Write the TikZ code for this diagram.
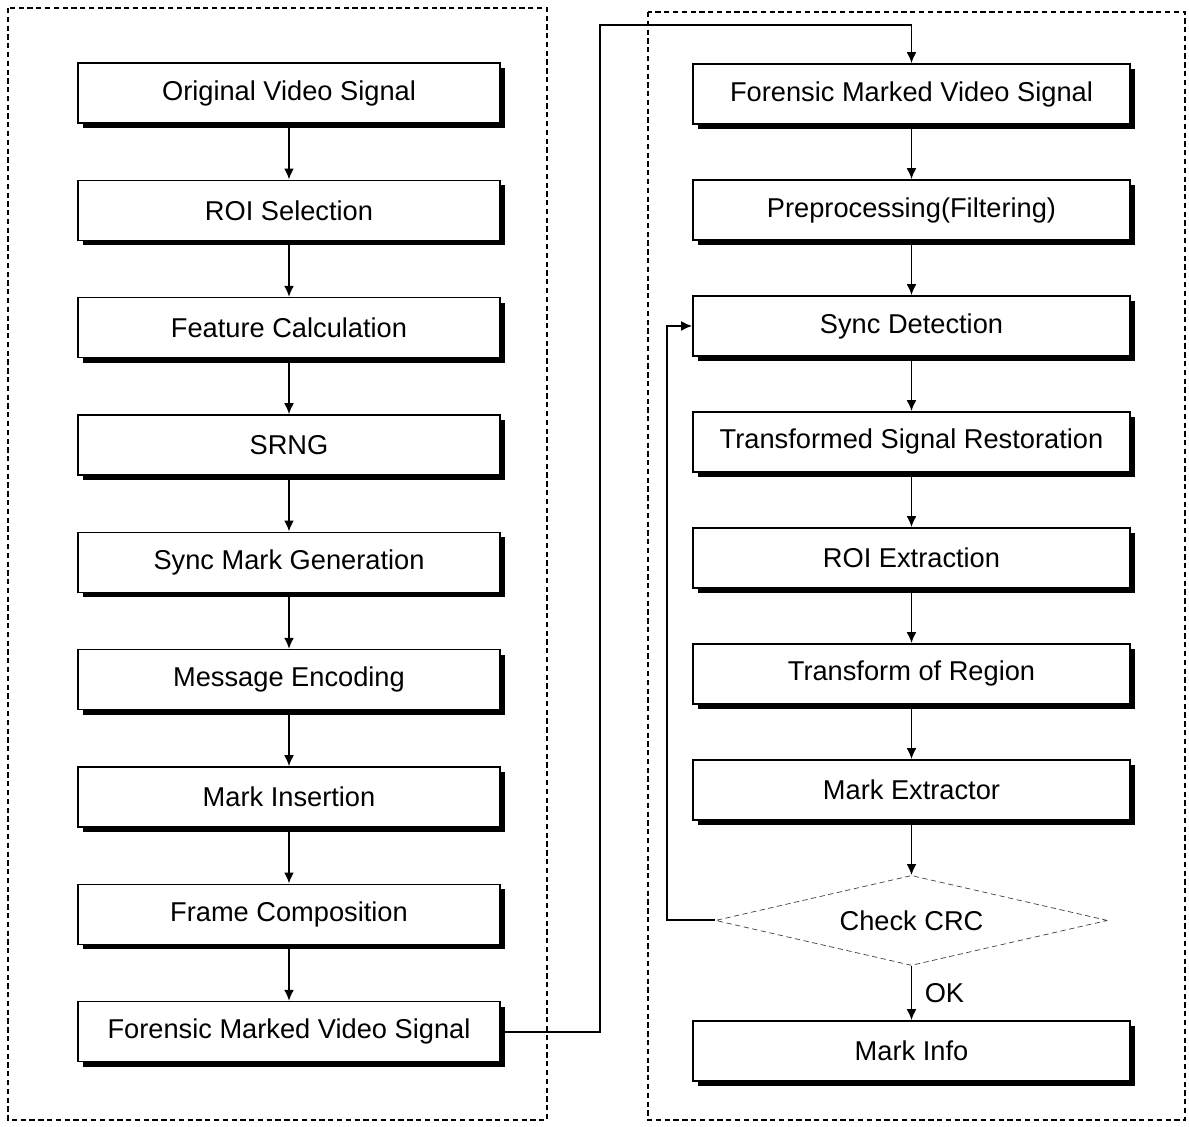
\documentclass[tikz,border=0pt]{standalone}
\usepackage{fontspec}
\setmainfont{Liberation Sans}
\usetikzlibrary{arrows.meta, positioning, shapes.geometric, shadows, calc}
\tikzset{
  caja/.style={
    draw=black, line width=0.9pt, fill=white,
    minimum height=1.2cm, align=center,
    font=\fontsize{15.5}{18}\selectfont,
    drop shadow={shadow xshift=0.1cm, shadow yshift=-0.1cm,
      fill=black, opacity=1}
  },
  cajaIzq/.style={caja, minimum width=8.44cm},
  cajaDer/.style={caja, minimum width=8.74cm},
  rombo/.style={diamond, draw=black!75, densely dashed, thin,
    aspect=4.35, minimum width=7.84cm, minimum height=1.8cm, inner sep=0pt,
    font=\fontsize{15.5}{18}\selectfont},
  flecha/.style={-{Latex[length=2.2mm, width=2mm]}, line width=1.1pt, black},
  marco/.style={draw=black, densely dashed, line width=0.8pt},
  etiqueta/.style={font=\fontsize{15.5}{18}\selectfont, inner sep=2pt, xshift=5pt},
}
\begin{document}
\begin{tikzpicture}[node distance=1.115cm]
  \useasboundingbox (0,0) rectangle (23.78,-22.54);
  % marcos punteados
  \draw[marco] (0.16,-0.16) rectangle (10.94,-22.4);
  \draw[marco] (12.96,-0.24) rectangle (23.7,-22.4);
  % columna de insercion
  \node[cajaIzq] (original) at (5.78,-1.86) {Original Video Signal};
  \node[cajaIzq, below=of original] (roiSel) {ROI Selection};
  \node[cajaIzq, below=of roiSel] (feature) {Feature Calculation};
  \node[cajaIzq, below=of feature] (srng) {SRNG};
  \node[cajaIzq, below=of srng] (syncGen) {Sync Mark Generation};
  \node[cajaIzq, below=of syncGen] (message) {Message Encoding};
  \node[cajaIzq, below=of message] (insertion) {Mark Insertion};
  \node[cajaIzq, below=of insertion] (frame) {Frame Composition};
  \node[cajaIzq, below=of frame] (forensicIzq) {Forensic Marked Video Signal};
  % columna de extraccion
  \node[cajaDer] (forensicDer) at (18.23,-1.88) {Forensic Marked Video Signal};
  \node[cajaDer, below=1.088cm of forensicDer] (prepro) {Preprocessing(Filtering)};
  \node[cajaDer, below=1.088cm of prepro] (syncDet) {Sync Detection};
  \node[cajaDer, below=1.088cm of syncDet] (restor) {Transformed Signal Restoration};
  \node[cajaDer, below=1.088cm of restor] (roiExt) {ROI Extraction};
  \node[cajaDer, below=1.088cm of roiExt] (transf) {Transform of Region};
  \node[cajaDer, below=1.088cm of transf] (extractor) {Mark Extractor};
  \node[rombo, below=1.088cm of extractor] (crc) {Check CRC};
  \node[cajaDer, below=1.088cm of crc] (markInfo) {Mark Info};
  \coordinate (pliegue) at (12,-0.5);
  % flechas
  \draw[flecha] (original) -- (roiSel);
  \draw[flecha] (roiSel) -- (feature);
  \draw[flecha] (feature) -- (srng);
  \draw[flecha] (srng) -- (syncGen);
  \draw[flecha] (syncGen) -- (message);
  \draw[flecha] (message) -- (insertion);
  \draw[flecha] (insertion) -- (frame);
  \draw[flecha] (frame) -- (forensicIzq);
  \draw[flecha] (forensicIzq.east) -| (pliegue) -| (forensicDer.north);
  \draw[flecha] (forensicDer) -- (prepro);
  \draw[flecha] (prepro) -- (syncDet);
  \draw[flecha] (syncDet) -- (restor);
  \draw[flecha] (restor) -- (roiExt);
  \draw[flecha] (roiExt) -- (transf);
  \draw[flecha] (transf) -- (extractor);
  \draw[flecha] (extractor) -- (crc);
  \draw[flecha] (crc) -- node[etiqueta, right] {OK} (markInfo);
  \draw[flecha] (crc.west) -- ++(-0.96,0) |- (syncDet.west);
\end{tikzpicture}
\end{document}
